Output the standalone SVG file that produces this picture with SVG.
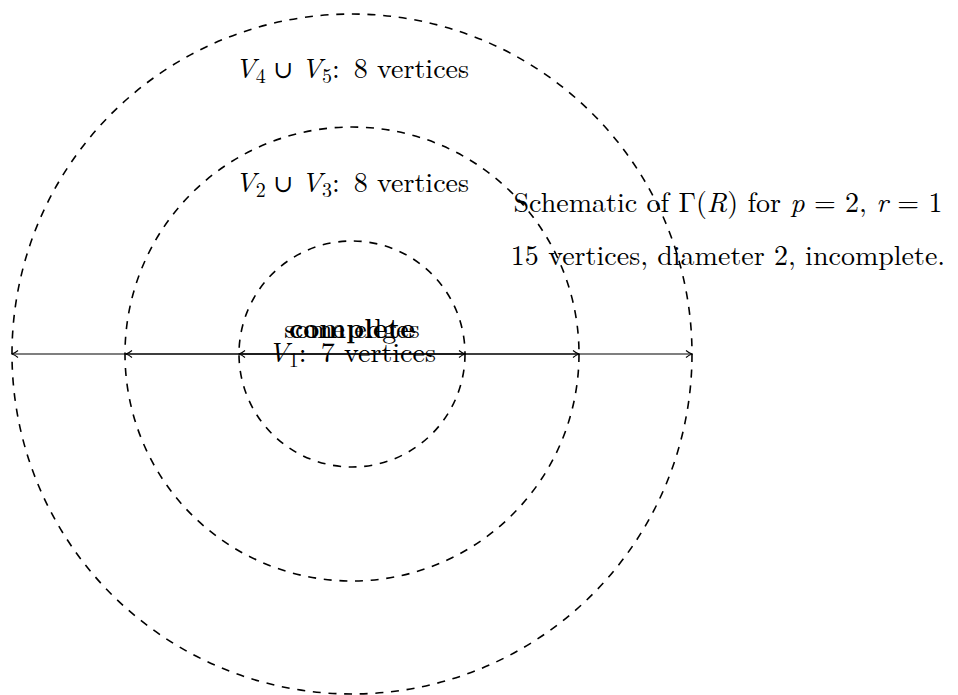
<svg xmlns="http://www.w3.org/2000/svg" width="958" height="695" viewBox="0 0 958 695">
<style>
.ring{fill:none;stroke:#000;stroke-width:1.6;stroke-dasharray:8 7.7}
.t{font-family:"Latin Modern Roman","Liberation Serif",serif;font-size:28px;fill:#000}
.i{font-style:italic}
.b{font-weight:bold}
.u{font-family:"DejaVu Serif",serif;font-size:24px}
.s{font-size:20px}
.ax{stroke:#000;stroke-width:1.2;fill:none;marker-start:url(#ah);marker-end:url(#ah)}
</style>
<defs>
<marker id="ah" viewBox="0 0 10 10" refX="9" refY="5" markerWidth="10" markerHeight="10" markerUnits="userSpaceOnUse" orient="auto-start-reverse">
<path d="M3,1.5 Q6,4 9,5 Q6,6 3,8.5" fill="none" stroke="#000" stroke-width="1.1"/>
</marker>
</defs>
<rect width="958" height="695" fill="#fff"/>
<g id="outer"><circle class="ring" cx="352" cy="354" r="340"/></g>
<g id="middle"><circle class="ring" cx="352" cy="354" r="227"/></g>
<g id="inner"><circle class="ring" cx="352" cy="354" r="113"/></g>
<g id="connectors">
<line class="ax" x1="12" y1="354" x2="692" y2="354"/>
<line class="ax" x1="126" y1="354" x2="579" y2="354"/>
<line class="ax" x1="239" y1="354" x2="465" y2="354"/>
</g>
<g id="labels">
<text class="t" x="352" y="78" text-anchor="middle"><tspan class="i">V</tspan><tspan class="s" dy="5">4</tspan><tspan class="u" dy="-5"> ∪ </tspan><tspan class="i">V</tspan><tspan class="s" dy="5">5</tspan><tspan dy="-5">:&#8194;8 vertices</tspan></text>
<text class="t" x="352" y="192" text-anchor="middle"><tspan class="i">V</tspan><tspan class="s" dy="5">2</tspan><tspan class="u" dy="-5"> ∪ </tspan><tspan class="i">V</tspan><tspan class="s" dy="5">3</tspan><tspan dy="-5">:&#8194;8 vertices</tspan></text>
<text class="t" x="352" y="338" text-anchor="middle">some edges</text>
<text class="t b" x="352" y="338" text-anchor="middle">complete</text>
<text class="t" x="352" y="362" text-anchor="middle"><tspan class="i">V</tspan><tspan class="s" dy="5">1</tspan><tspan dy="-5">:&#8194;7 vertices</tspan></text>
<text class="t" x="728" y="212" text-anchor="middle">Schematic of Γ(<tspan class="i">R</tspan>) for <tspan class="i">p</tspan> = 2, <tspan class="i">r</tspan> = 1</text>
<text class="t" x="728" y="265" text-anchor="middle">15 vertices, diameter 2, incomplete.</text>
</g>
</svg>
